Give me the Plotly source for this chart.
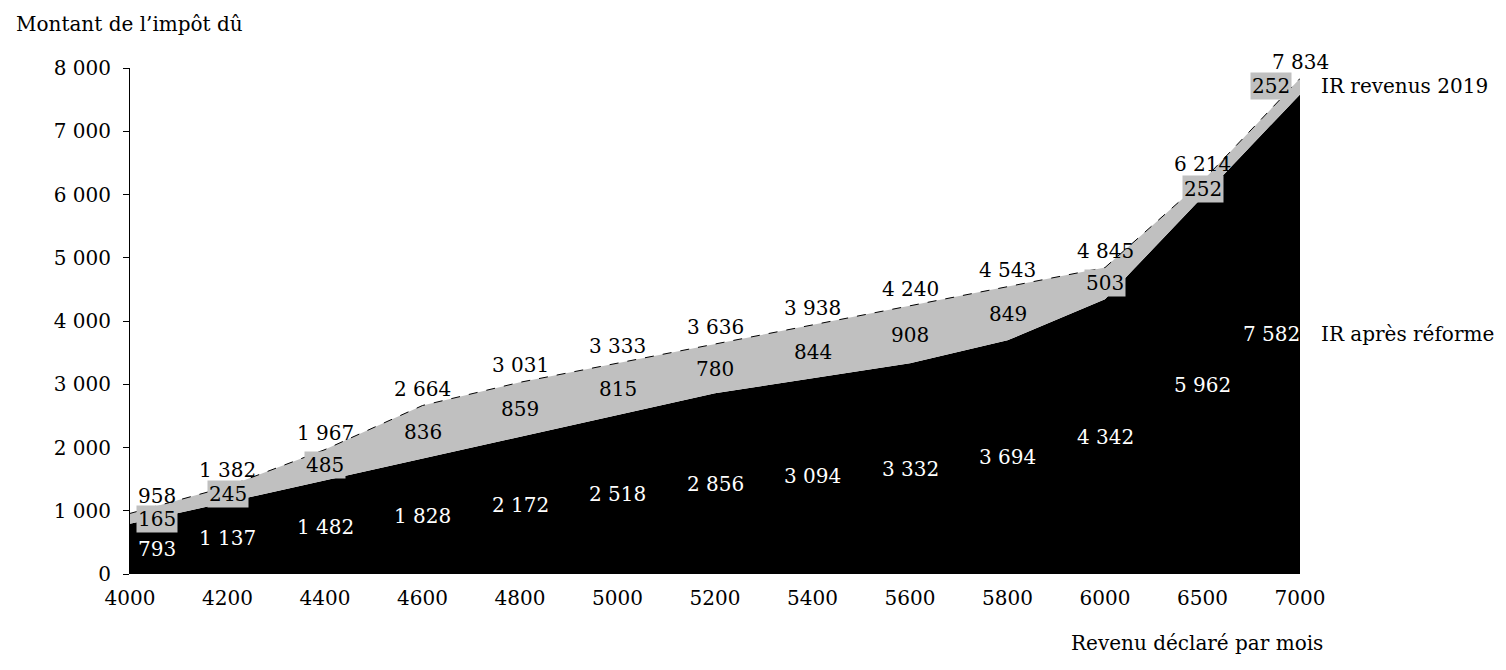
import plotly.graph_objs as go

# revenus declares par mois (categories)
revenus = ['4000', '4200', '4400', '4600', '4800', '5000', '5200',
           '5400', '5600', '5800', '6000', '6500', '7000']

# impot du
ir_2019 = [958, 1382, 1967, 2664, 3031, 3333, 3636, 3938, 4240, 4543, 4845, 6214, 7834]
ir_reforme = [793, 1137, 1482, 1828, 2172, 2518, 2856, 3094, 3332, 3694, 4342, 5962, 7582]
gain = [165, 245, 485, 836, 859, 815, 780, 844, 908, 849, 503, 252, 252]

y_ticks = [0, 1000, 2000, 3000, 4000, 5000, 6000, 7000, 8000]

FONT = 'DejaVu Serif'
SIZE = 20


def fmt(v):
    return f'{v:,}'.replace(',', ' ')


fig = go.Figure()

# IR apres reforme, zone noire
fig.add_trace(go.Scatter(x=revenus, y=ir_reforme, mode='lines',
                         line=dict(color='black', width=0),
                         fill='tozeroy', fillcolor='black',
                         name='IR après réforme', hoverinfo='skip'))

# IR revenus 2019, zone grise + ligne pointillee
fig.add_trace(go.Scatter(x=revenus, y=ir_2019, mode='lines',
                         line=dict(color='black', width=1, dash='dash'),
                         fill='tonexty', fillcolor='#c0c0c0',
                         name='IR revenus 2019', hoverinfo='skip'))

n = len(revenus)
for i in range(n):
    xs = 0
    if i == 0:
        xs = 27
    elif i == n - 1:
        xs = -29
    # valeur IR 2019 au-dessus de la ligne
    fig.add_annotation(x=i, y=ir_2019[i], text=fmt(ir_2019[i]), showarrow=False,
                       yanchor='bottom', yshift=3, xshift=(27 if i == 0 else 0),
                       font=dict(family=FONT, size=SIZE, color='black'))
    # gain (zone grise)
    fig.add_annotation(x=i, y=ir_reforme[i] + gain[i] / 2, text=fmt(gain[i]),
                       showarrow=False, xshift=xs, bgcolor='#c0c0c0', borderpad=1,
                       font=dict(family=FONT, size=SIZE, color='black'))
    # IR apres reforme (zone noire)
    fig.add_annotation(x=i, y=ir_reforme[i] / 2, text=fmt(ir_reforme[i]),
                       showarrow=False, xshift=xs,
                       font=dict(family=FONT, size=SIZE, color='white'))

# noms des series a droite
fig.add_annotation(x=1.0, xref='paper', y=ir_reforme[-1] + gain[-1] / 2, text='IR revenus 2019',
                   showarrow=False, xanchor='left', xshift=19,
                   font=dict(family=FONT, size=SIZE, color='black'))
fig.add_annotation(x=1.0, xref='paper', y=ir_reforme[-1] / 2, text='IR après réforme',
                   showarrow=False, xanchor='left', xshift=19,
                   font=dict(family=FONT, size=SIZE, color='black'))

# titres des axes (positions relatives a la zone de trace)
fig.add_annotation(x=(14 - 130) / 1170, y=(574 - 24) / 506, xref='paper', yref='paper',
                   text='Montant de l’impôt dû', showarrow=False,
                   xanchor='left', yanchor='middle',
                   font=dict(family=FONT, size=SIZE, color='black'))
fig.add_annotation(x=(1325 - 130) / 1170, y=(574 - 643) / 506, xref='paper', yref='paper',
                   text='Revenu déclaré par mois', showarrow=False,
                   xanchor='right', yanchor='middle',
                   font=dict(family=FONT, size=SIZE, color='black'))

# la page ajoute une marge de 8 px autour du graphique
fig.update_layout(
    width=1506, height=670,
    margin=dict(l=122, r=214, t=60, b=104),
    paper_bgcolor='white', plot_bgcolor='white',
    showlegend=False,
    font=dict(family=FONT, size=SIZE, color='black'),
)
fig.update_xaxes(type='category', range=[0, n - 1], showgrid=False, zeroline=False,
                 showline=False, ticks='', automargin=False, ticklabelstandoff=10,
                 tickfont=dict(family=FONT, size=SIZE))
fig.update_yaxes(range=[0, 8000], tickvals=y_ticks, ticktext=[fmt(v) for v in y_ticks],
                 showgrid=False, zeroline=False, showline=True, linecolor='black',
                 linewidth=1, ticks='outside', ticklen=6, tickcolor='black',
                 automargin=False, ticklabelstandoff=8,
                 tickfont=dict(family=FONT, size=SIZE))

fig.write_html('out.html')
